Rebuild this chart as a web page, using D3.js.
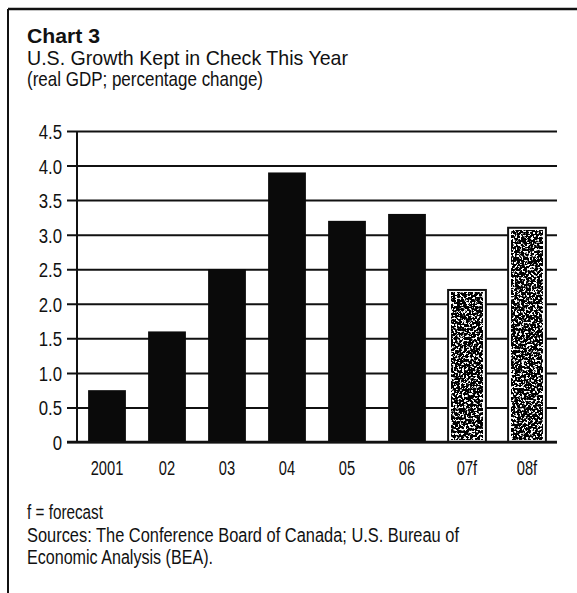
<!DOCTYPE html>
<html>
<head>
<meta charset="utf-8">
<script src="https://cdn.jsdelivr.net/npm/d3@7"></script>
<style>
  html, body { margin: 0; padding: 0; background: #fff; }
  svg { display: block; }
  .cond { font-family: "Liberation Sans", Arial, sans-serif; fill: #111; }
</style>
</head>
<body>
<script>
// Real GDP growth, percentage change
const years = ["2001", "02", "03", "04", "05", "06", "07f", "08f"];
const growth = [0.75, 1.6, 2.5, 3.9, 3.2, 3.3, 2.2, 3.1];
const isForecast = [false, false, false, false, false, false, true, true];
const yTicks = [0, 0.5, 1.0, 1.5, 2.0, 2.5, 3.0, 3.5, 4.0, 4.5];
const yTickLabels = ["0", "0.5", "1.0", "1.5", "2.0", "2.5", "3.0", "3.5", "4.0", "4.5"];

const W = 577, H = 593;
const svg = d3.select("body").append("svg").attr("width", W).attr("height", H);

// Speckled fill for forecast bars
const defs = svg.append("defs");
const f = defs.append("filter").attr("id", "stipple")
  .attr("x", 0).attr("y", 0).attr("width", 1).attr("height", 1)
  .attr("color-interpolation-filters", "sRGB");
f.append("feTurbulence").attr("type", "fractalNoise").attr("baseFrequency", 0.45)
  .attr("numOctaves", 3).attr("seed", 11).attr("result", "noise");
f.append("feColorMatrix").attr("type", "matrix")
  .attr("values", "12 0 0 0 -6.3  12 0 0 0 -6.3  12 0 0 0 -6.3  0 0 0 0 1");

// Condensed text: horizontally squeezed sans
function condText(parent, x0, y0, str, size, sx, anchor) {
  return parent.append("text").attr("class", "cond")
    .attr("transform", `translate(${x0},${y0}) scale(${sx},1)`)
    .attr("font-size", size).attr("text-anchor", anchor || "start")
    .text(str);
}

// Frame
svg.append("line").attr("x1", 8).attr("x2", 8).attr("y1", 9).attr("y2", H)
  .attr("stroke", "#111").attr("stroke-width", 2);
svg.append("line").attr("x1", 8).attr("x2", W).attr("y1", 9).attr("y2", 9)
  .attr("stroke", "#111").attr("stroke-width", 2.5);

// Titles
svg.append("text").attr("x", 27).attr("y", 43)
  .attr("font-family", "'Liberation Sans', Arial, sans-serif").attr("font-weight", "bold")
  .attr("font-size", 20).attr("fill", "#111")
  .attr("textLength", 73).attr("lengthAdjust", "spacingAndGlyphs")
  .text("Chart 3");
svg.append("text").attr("class", "cond").attr("x", 27).attr("y", 65)
  .attr("font-size", 21).attr("textLength", 321).attr("lengthAdjust", "spacingAndGlyphs")
  .text("U.S. Growth Kept in Check This Year");
svg.append("text").attr("class", "cond").attr("x", 27).attr("y", 86)
  .attr("font-size", 21).attr("textLength", 236).attr("lengthAdjust", "spacingAndGlyphs")
  .text("(real GDP; percentage change)");

// Scales
const plotLeft = 77, plotRight = 557, plotTop = 131, plotBottom = 442;
const x = d3.scaleBand().domain(years).range([plotLeft, plotRight])
  .paddingInner(0.37).paddingOuter(0.185);
const y = d3.scaleLinear().domain([0, 4.5]).range([plotBottom, plotTop]);

// Gridlines with ticks extending left of the axis
const yAxis = d3.axisLeft(y).tickValues(yTicks)
  .tickFormat((d, i) => yTickLabels[i])
  .tickSize(-(plotRight - plotLeft)).tickPadding(5);
const gy = svg.append("g").attr("transform", `translate(${plotLeft},0)`).call(yAxis);
gy.select(".domain").remove();
gy.selectAll(".tick line").attr("x1", -10).attr("stroke", "#111").attr("stroke-width", 2);
gy.selectAll(".tick text").remove();
gy.selectAll(".tick").each(function (d, i) {
  condText(d3.select(this), -15, 7.5, yTickLabels[i], 21, 0.8, "end");
});

// Vertical axis line
svg.append("line").attr("x1", plotLeft).attr("x2", plotLeft)
  .attr("y1", y(4.5)).attr("y2", y(0)).attr("stroke", "#111").attr("stroke-width", 2);

// Bars
const bars = svg.append("g");
years.forEach((yr, i) => {
  const bx = x(yr), bw = x.bandwidth(), top = y(growth[i]), h = y(0) - top;
  if (!isForecast[i]) {
    bars.append("rect").attr("x", bx).attr("y", top).attr("width", bw).attr("height", h)
      .attr("fill", "#0a0a0a");
  } else {
    bars.append("rect").attr("x", bx).attr("y", top).attr("width", bw).attr("height", h)
      .attr("fill", "#fff").attr("stroke", "#111").attr("stroke-width", 2);
    bars.append("rect").attr("x", bx + 3).attr("y", top + 3)
      .attr("width", bw - 6).attr("height", h - 5)
      .attr("fill", "#fff").attr("filter", "url(#stipple)");
  }
});

// Baseline
svg.append("line").attr("x1", plotLeft - 10).attr("x2", plotRight)
  .attr("y1", y(0)).attr("y2", y(0)).attr("stroke", "#111").attr("stroke-width", 2.5);

// Category labels
const xAxis = d3.axisBottom(x).tickSize(0).tickPadding(0);
const gx = svg.append("g").attr("transform", `translate(0,${plotBottom})`).call(xAxis);
gx.select(".domain").remove();
gx.selectAll(".tick text").remove();
gx.selectAll(".tick").each(function (d) {
  condText(d3.select(this), 0, 33, d, 21, 0.7, "middle");
});

// Notes
const notes = [
  { t: "f = forecast", y: 519, len: 76 },
  { t: "Sources: The Conference Board of Canada; U.S. Bureau of", y: 542, len: 432 },
  { t: "Economic Analysis (BEA).", y: 564, len: 186 }
];
notes.forEach(n => {
  svg.append("text").attr("class", "cond").attr("x", 27).attr("y", n.y)
    .attr("font-size", 20).attr("textLength", n.len).attr("lengthAdjust", "spacingAndGlyphs")
    .text(n.t);
});
</script>
</body>
</html>
